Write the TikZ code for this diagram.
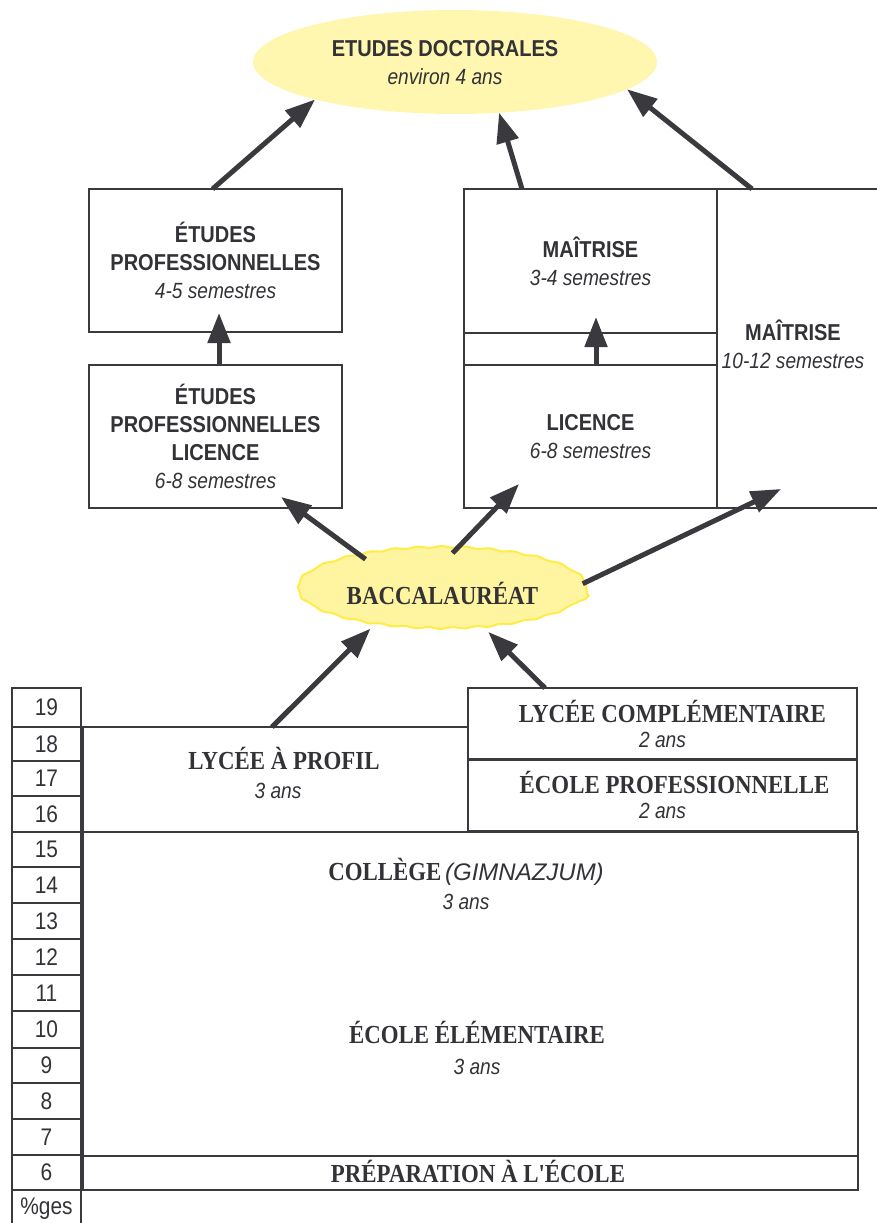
\documentclass[tikz,border=0pt]{standalone}
\usepackage{fontspec}
\usetikzlibrary{arrows.meta,shapes.geometric,decorations.pathmorphing,calc}
\newfontfamily\sansf[FakeStretch=0.87]{Liberation Sans}
\newfontfamily\sansw{Liberation Sans}
\newfontfamily\seriff[FakeStretch=0.88]{Liberation Serif}
\definecolor{linec}{RGB}{58,58,62}
\definecolor{textc}{RGB}{50,50,55}
\definecolor{docfill}{RGB}{255,247,176}
\definecolor{baccfill}{RGB}{255,245,160}
\definecolor{baccedge}{RGB}{255,236,70}
\newcommand\hb[1]{{\fontsize{23}{28}\selectfont\bfseries #1}}
\newcommand\hi[1]{{\fontsize{22}{28}\selectfont\itshape #1}}
\newcommand\rb[1]{{\seriff\bfseries\fontsize{26}{27}\selectfont #1}}
\newcommand\ri[1]{{\sansf\itshape\fontsize{22}{27}\selectfont #1}}
\begin{document}
\begin{tikzpicture}[x=1pt,y=-1pt,
  box/.style={draw=linec, line width=2.2pt, rectangle, inner sep=0pt, outer sep=0pt, align=center, text=textc},
  sfont/.style={font=\sansf\fontsize{22}{28}\selectfont},
  lbl/.style={align=center, text=textc, inner sep=0pt},
  arr/.style={draw=linec, line width=5pt, -{Triangle[length=30pt,width=22pt]}},
  agebox/.style={box, minimum width=69pt, font=\sansf\fontsize{24}{26}\selectfont},
]
\useasboundingbox (0,0) rectangle (877,1223);

% top ellipse
\node[ellipse, fill=docfill, minimum width=404pt, minimum height=104pt, inner sep=0pt, outer sep=0pt] (doc) at (455,62) {};
\node[lbl, sfont] (docT) at (445,63) {\hb{ETUDES DOCTORALES}\\\hi{environ 4 ans}};

% upper boxes
\node[box, sfont, minimum width=253pt, minimum height=143pt] (ep) at (215.5,260.5)
  {\hb{ÉTUDES}\\\hb{PROFESSIONNELLES}\\\hi{4-5 semestres}};
\node[box, sfont, minimum width=253pt, minimum height=143pt] (ep2) at (215.5,436.5)
  {\hb{ÉTUDES}\\\hb{PROFESSIONNELLES}\\\hb{LICENCE}\\\hi{6-8 semestres}};
\node[box, sfont, minimum width=253pt, minimum height=144pt] (mshort) at (590.5,261)
  {\hb{MAÎTRISE}\\\hi{3-4 semestres}};
\node[box, sfont, minimum width=253pt, minimum height=143pt] (lic) at (590.5,436.5)
  {\hb{LICENCE}\\\hi{6-8 semestres}};
\node[box, minimum width=163pt, minimum height=319pt] (mlong) at (798.5,348.5) {};
\node[lbl, sfont] (mlongT) at (793,344) {\hb{MAÎTRISE}\\\hi{10-12 semestres}};
\draw[linec, line width=2.2pt] (mshort.south west) -- (lic.north west);

% baccalaureat
\node[ellipse, fill=baccfill, draw=baccedge, line width=2pt, decorate, decoration={snake, segment length=24pt, amplitude=0.8pt},
  minimum width=289pt, minimum height=81pt, inner sep=0pt, outer sep=0pt, text=textc] (bacc) at (442.5,593.5) {\rb{BACCALAURÉAT}};

% lower boxes
\node[box, minimum width=385pt, minimum height=105pt] (lycprof) at (275.5,779.5) {};
\node[lbl, font=\fontsize{22}{29}\selectfont] (lycprofT) at (278,773)
  {\hspace*{12pt}\rb{LYCÉE À PROFIL}\\\ri{3 ans}};
\node[box, minimum width=389pt, minimum height=72pt, font=\fontsize{22}{25}\selectfont] (lyccomp) at (662.5,724)
  {\hspace*{20pt}\rb{LYCÉE COMPLÉMENTAIRE}\\\ri{2 ans}};
\node[box, minimum width=389pt, minimum height=72pt, font=\fontsize{22}{25}\selectfont] (ecpro) at (662.5,795)
  {\hspace*{24pt}\rb{ÉCOLE PROFESSIONNELLE}\\\ri{2 ans}};
\node[box, minimum width=775pt, minimum height=324pt] (base) at (470.5,994) {};
\node[lbl, font=\fontsize{22}{29}\selectfont] (col) at (466,884)
  {\rb{COLLÈGE}\,{\sansw\itshape\fontsize{24}{27}\selectfont (GIMNAZJUM)}\\\ri{3 ans}};
\node[lbl, font=\fontsize{22}{31}\selectfont] (elem) at (477,1048)
  {\rb{ÉCOLE ÉLÉMENTAIRE}\\\ri{3 ans}};
\node[box, minimum width=775pt, minimum height=34pt] (prep) at (470.5,1173) {};
\node[lbl] (prepT) at (478,1171) {\rb{PRÉPARATION À L'ÉCOLE}};

% ages column
\foreach \n/\yc/\h in {19/707.5/39, 18/744/34, 17/778.5/35, 16/814/36, 15/849.5/35, 14/885/36, 13/921/36, 12/957/36, 11/993/36, 10/1029.5/37, 9/1065.5/35, 8/1101/36, 7/1137/36, 6/1172.5/35}
  \node[agebox, minimum height=\h pt] (age\n) at (46.5,\yc) {\n};
\node[agebox, minimum height=38pt] (ages) at (46.5,1209) {\%ges};

% arrows to doctoral studies
\draw[arr] ([xshift=-3pt]ep.north) -- (doc.195);
\draw[arr] ($(mshort.north west)+(58,0)$) -- (doc.311);
\draw[arr] ($(mlong.north west)+(35,0)$) -- (doc.351);

% internal vertical arrows
\draw[arr] ([xshift=3.5pt]ep2.north) -- ($(ep.south)+(3.5,-19)$);
\draw[arr] ([xshift=5.5pt]lic.north) -- ($(mshort.south)+(5.5,-16)$);

% arrows from baccalaureat
\draw[arr] (bacc.156) -- ($(ep2.south east)+(-61,-11)$);
\draw[arr] (bacc.76) -- ($(lic.south west)+(55,-24)$);
\draw[arr] (bacc.4) -- ($(mlong.south west)+(64,-19)$);

% arrows into baccalaureat
\draw[arr] ([xshift=-3.5pt]lycprof.north) -- (bacc.206);
\draw[arr] ($(lyccomp.north west)+(77,0)$) -- (bacc.320);
\end{tikzpicture}
\end{document}
